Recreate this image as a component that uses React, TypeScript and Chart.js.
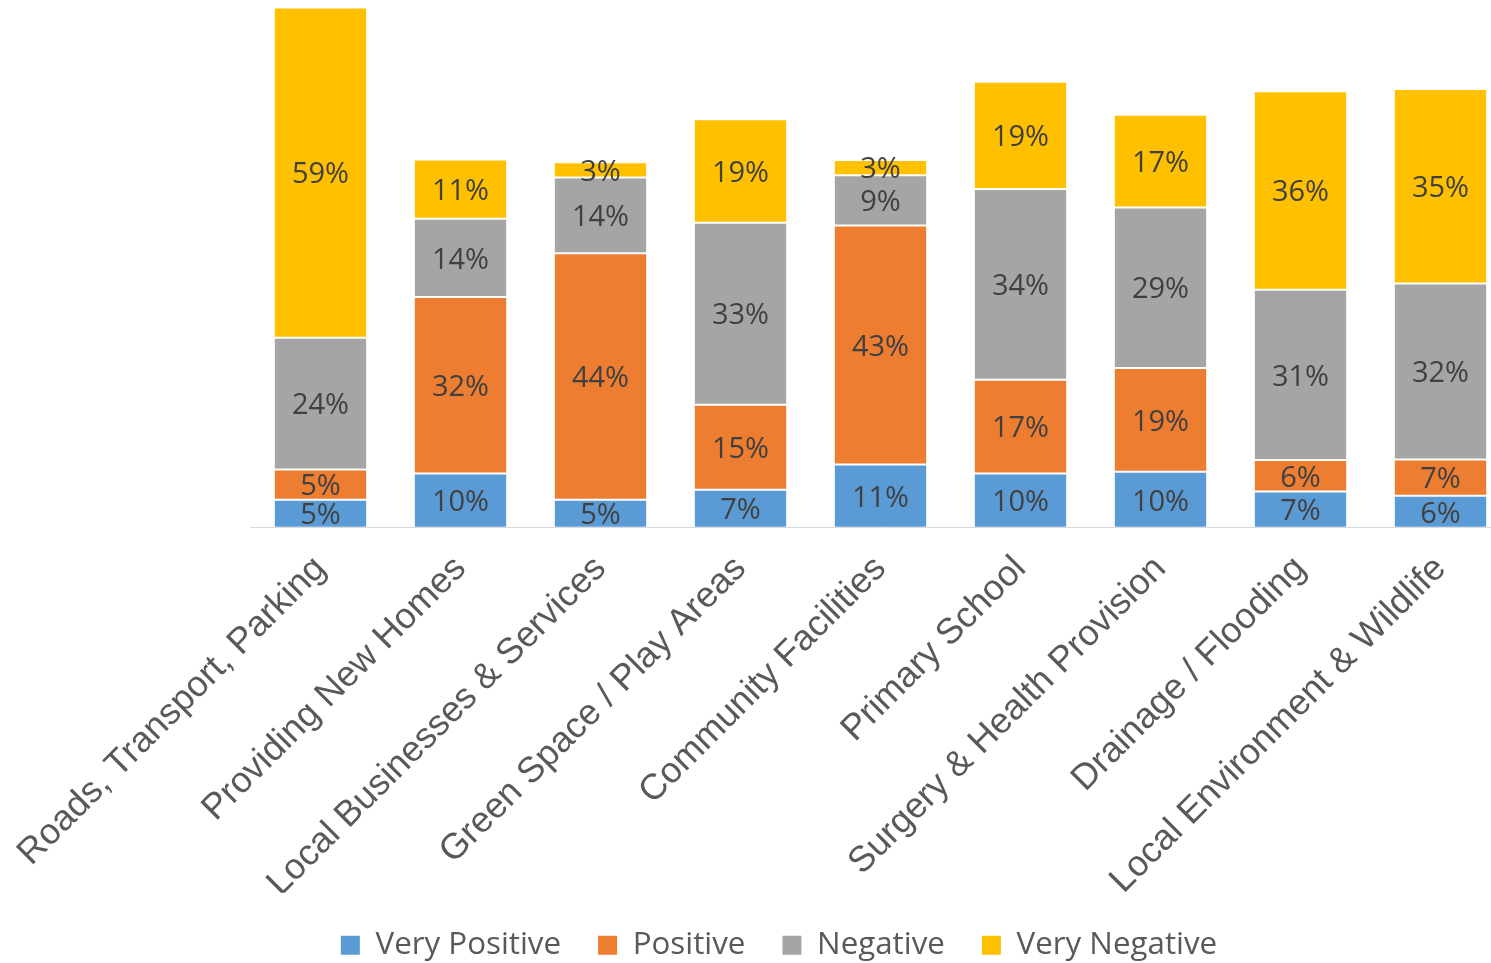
import React, { useEffect, useRef } from 'react';
import { Chart, registerables } from 'chart.js';

Chart.register(...registerables);

const categories = [
  'Roads, Transport, Parking',
  'Providing New Homes',
  'Local Businesses & Services',
  'Green Space / Play Areas',
  'Community Facilities',
  'Primary School',
  'Surgery & Health Provision',
  'Drainage / Flooding',
  'Local Environment & Wildlife',
];

const veryPositive = [5.0, 9.7, 5.0, 6.8, 11.3, 9.7, 10.0, 6.5, 5.7];
const positive = [5.4, 31.6, 44.1, 15.2, 42.8, 16.8, 18.6, 5.6, 6.5];
const negative = [23.6, 14.0, 13.6, 32.6, 9.0, 34.1, 28.7, 30.5, 31.5];
const veryNegative = [59.1, 10.6, 2.7, 18.5, 2.7, 19.2, 16.6, 35.5, 34.8];

const seriesNames = ['Very Positive', 'Positive', 'Negative', 'Very Negative'];
const seriesColors = ['#5B9BD5', '#ED7D31', '#A5A5A5', '#FFC000'];
const seriesValues = [veryPositive, positive, negative, veryNegative];

const CANVAS_W = 1558;
const CANVAS_H = 971;

const segmentLabels = {
  id: 'segmentLabels',
  afterDatasetsDraw(chart: any) {
    const ctx = chart.ctx;
    ctx.save();
    ctx.font = '29px "Open Sans"';
    ctx.fillStyle = '#404040';
    ctx.textAlign = 'center';
    ctx.textBaseline = 'middle';
    chart.data.datasets.forEach((ds: any, i: number) => {
      const meta = chart.getDatasetMeta(i);
      if (meta.hidden) return;
      meta.data.forEach((el: any, j: number) => {
        const { x, y, base } = el.getProps(['x', 'y', 'base'], true);
        const v = ds.data[j] as number;
        ctx.fillText(Math.round(v) + '%', x, (y + base) / 2 + 2.5);
      });
    });
    ctx.restore();
  },
};

export default function App() {
  const ref = useRef<HTMLCanvasElement | null>(null);

  useEffect(() => {
    if (!ref.current) return;
    const chart = new Chart(ref.current, {
      type: 'bar',
      data: {
        labels: categories,
        datasets: seriesNames.map((name, i) => ({
          label: name,
          data: seriesValues[i],
          backgroundColor: seriesColors[i],
          borderColor: 'rgba(255,255,255,0.3)',
          borderWidth: 1,
          borderSkipped: false,
          categoryPercentage: 1,
          barPercentage: 0.6667,
        })),
      },
      options: {
        responsive: false,
        animation: false,
        devicePixelRatio: 1,
        layout: { padding: { top: 2.5, left: 0, right: 0, bottom: 0 } },
        plugins: {
          legend: {
            position: 'bottom',
            labels: {
              boxWidth: 19,
              boxHeight: 19,
              padding: 37,
              color: '#595959',
              font: { family: '"Open Sans"', size: 31.3 },
              generateLabels: (c: any) =>
                (Chart.defaults as any).plugins.legend.labels
                  .generateLabels(c)
                  .map((l: any) => ({ ...l, lineWidth: 0 })),
            },
          },
          tooltip: { enabled: false },
        },
        scales: {
          x: {
            stacked: true,
            grid: { display: false, drawTicks: false },
            border: { display: true, color: '#D9D9D9', width: 1 },
            ticks: {
              autoSkip: false,
              minRotation: 45,
              maxRotation: 45,
              padding: 20,
              color: '#595959',
              font: { family: '"Liberation Sans", Arial', size: 36 },
            },
            afterFit: (s: any) => {
              s.paddingLeft = 250.5;
              s.paddingRight = 47.5;
              s.height = 365;
            },
          },
          y: {
            stacked: true,
            display: false,
            min: 0,
            max: 94,
          },
        },
      } as any,
      plugins: [segmentLabels],
    });
    return () => chart.destroy();
  }, []);

  return (
    <div
      style={{
        position: 'fixed',
        left: 0,
        top: 0,
        width: 1491,
        height: 963,
        overflow: 'hidden',
        background: '#ffffff',
      }}
    >
      <canvas
        ref={ref}
        width={CANVAS_W}
        height={CANVAS_H}
        style={{ display: 'block', width: CANVAS_W, height: CANVAS_H }}
      />
    </div>
  );
}
